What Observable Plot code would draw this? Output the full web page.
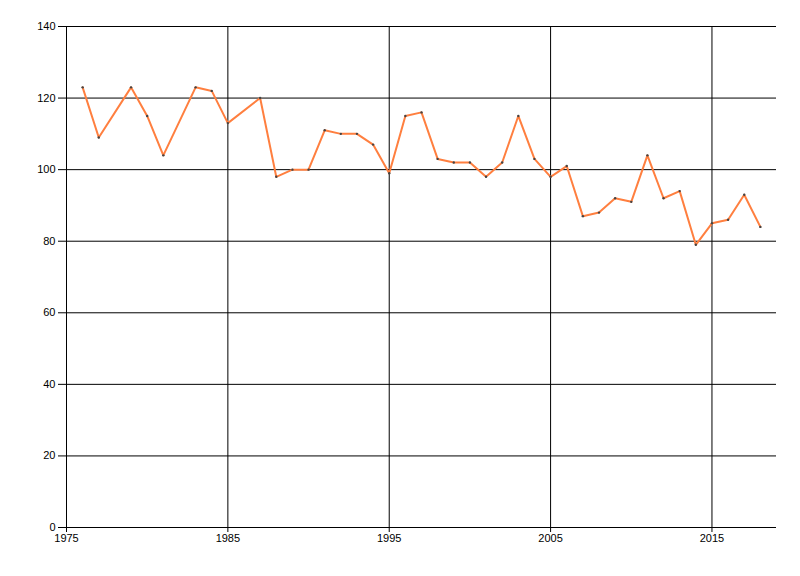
<!DOCTYPE html>
<html>
<head>
<meta charset="utf-8">
<script src="https://cdn.jsdelivr.net/npm/d3@7"></script>
<script src="https://cdn.jsdelivr.net/npm/@observablehq/plot@0.6"></script>
<style>
  html, body { margin: 0; padding: 0; background: #fff; }
  #chart svg { display: block; }
</style>
</head>
<body>
<div id="chart"></div>
<script>
const years = [1976, 1977, 1979, 1980, 1981, 1983, 1984, 1985, 1987, 1988, 1989, 1990,
  1991, 1992, 1993, 1994, 1995, 1996, 1997, 1998, 1999, 2000, 2001, 2002, 2003, 2004,
  2005, 2006, 2007, 2008, 2009, 2010, 2011, 2012, 2013, 2014, 2015, 2016, 2017, 2018];
const values = [123, 109, 123, 115, 104, 123, 122, 113, 120, 98, 100, 100,
  111, 110, 110, 107, 99, 115, 116, 103, 102, 102, 98, 102, 115, 103,
  98, 101, 87, 88, 92, 91, 104, 92, 94, 79, 85, 86, 93, 84];
const xTicks = [1975, 1985, 1995, 2005, 2015];
const yTicks = [0, 20, 40, 60, 80, 100, 120, 140];

const data = years.map((y, i) => ({year: y, value: values[i]}));

const chart = Plot.plot({
  width: 800,
  height: 576,
  marginLeft: 66,
  marginRight: 24,
  marginTop: 26,
  marginBottom: 49,
  style: {fontFamily: "'Liberation Sans', Arial, sans-serif", fontSize: "11px", color: "#000", background: "#fff"},
  x: {domain: [1975, 2019]},
  y: {domain: [0, 140]},
  marks: [
    Plot.gridX(xTicks, {stroke: "#000", strokeOpacity: 1, strokeWidth: 1}),
    Plot.gridY(yTicks, {stroke: "#000", strokeOpacity: 1, strokeWidth: 1}),
    Plot.ruleX([1975], {stroke: "#000"}),
    Plot.ruleY([0], {stroke: "#000"}),
    Plot.axisX(xTicks, {tickFormat: d3.format("d"), tickSize: 5, tickPadding: 2, label: null, stroke: "#000", fill: "#000"}),
    Plot.axisY(yTicks, {tickFormat: d3.format("d"), tickSize: 8, tickPadding: 3, label: null, stroke: "#000", fill: "#000"}),
    Plot.line(data, {x: "year", y: "value", stroke: "#ff7f3f", strokeWidth: 2}),
    Plot.dot(data, {x: "year", y: "value", r: 1.2, fill: "#444", stroke: "none"})
  ]
});
document.getElementById("chart").appendChild(chart);
</script>
</body>
</html>
